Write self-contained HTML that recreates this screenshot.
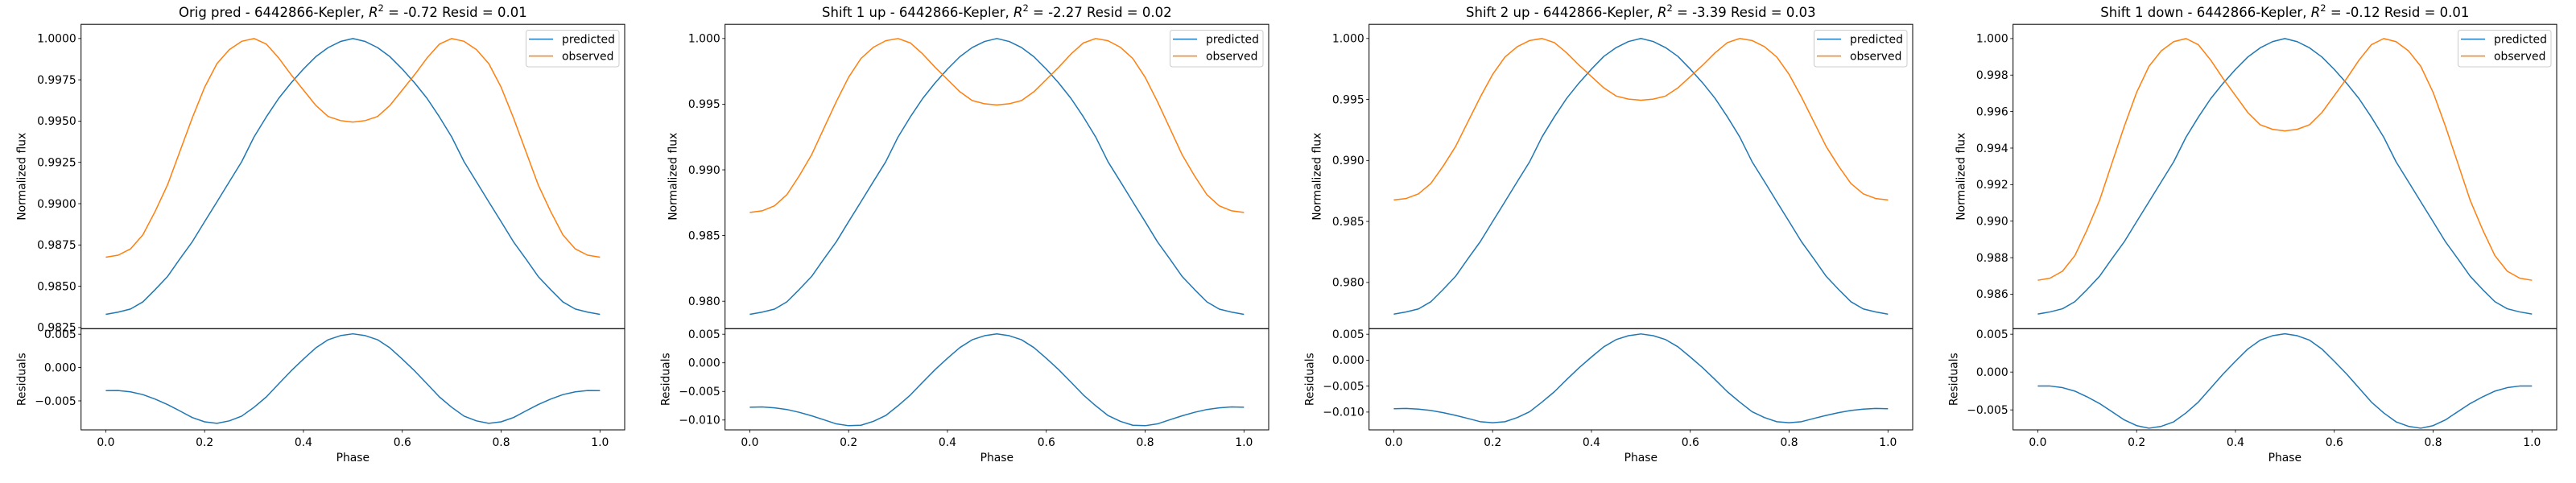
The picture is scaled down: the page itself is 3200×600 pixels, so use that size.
<!DOCTYPE html>
<html><head><meta charset="utf-8">
<style>
html,body{margin:0;padding:0;background:#fff;}
svg{display:block;font-family:"DejaVu Sans","Liberation Sans",sans-serif;}
</style></head>
<body>
<svg id="fig" width="3200" height="600" viewBox="0 0 3200 600" xmlns="http://www.w3.org/2000/svg"></svg>
<script>
const phase = [0,0.025,0.05,0.075,0.1,0.125,0.15,0.175,0.2,0.225,0.25,0.275,0.3,0.325,0.35,0.375,0.4,0.425,0.45,0.475,0.5,0.525,0.55,0.575,0.6,0.625,0.65,0.675,0.7,0.725,0.75,0.775,0.8,0.825,0.85,0.875,0.9,0.925,0.95,0.975,1.0];
const observed = [0.98676,0.98688,0.98726,0.98811,0.98954,0.99114,0.99317,0.99519,0.99705,0.99848,0.99933,0.99983,1.0,0.99966,0.99882,0.99781,0.99688,0.99595,0.99528,0.99503,0.99494,0.99503,0.99528,0.99595,0.99688,0.99781,0.99882,0.99966,1.0,0.99983,0.99933,0.99848,0.99705,0.99519,0.99317,0.99114,0.98954,0.98811,0.98726,0.98688,0.98676];
const predOrig = [0.98330,0.98343,0.98362,0.98405,0.98480,0.98559,0.98666,0.98769,0.98891,0.99011,0.99133,0.99254,0.99404,0.99526,0.99638,0.99731,0.99815,0.99890,0.99945,0.99982,1.0,0.99982,0.99945,0.99890,0.99815,0.99731,0.99638,0.99526,0.99404,0.99254,0.99133,0.99011,0.98891,0.98769,0.98666,0.98559,0.98480,0.98405,0.98362,0.98343,0.98330];
const predUp1 = [0.97900,0.97917,0.97940,0.97995,0.98089,0.98188,0.98322,0.98452,0.98606,0.98757,0.98910,0.99061,0.99250,0.99404,0.99544,0.99662,0.99767,0.99861,0.99931,0.99977,1.0,0.99977,0.99931,0.99861,0.99767,0.99662,0.99544,0.99404,0.99250,0.99061,0.98910,0.98757,0.98606,0.98452,0.98322,0.98188,0.98089,0.97995,0.97940,0.97917,0.97900];
const predUp2 = [0.97740,0.97758,0.97783,0.97842,0.97943,0.98050,0.98194,0.98334,0.98499,0.98662,0.98827,0.98990,0.99193,0.99358,0.99510,0.99636,0.99749,0.99853,0.99925,0.99975,1.0,0.99975,0.99925,0.99853,0.99749,0.99636,0.99510,0.99358,0.99193,0.98990,0.98827,0.98662,0.98499,0.98334,0.98194,0.98050,0.97943,0.97842,0.97783,0.97758,0.97740];
const predDown1 = [0.98491,0.98503,0.98520,0.98559,0.98626,0.98698,0.98794,0.98887,0.98997,0.99106,0.99216,0.99325,0.99460,0.99570,0.99671,0.99755,0.99831,0.99899,0.99949,0.99983,1.0,0.99983,0.99949,0.99899,0.99831,0.99755,0.99671,0.99570,0.99460,0.99325,0.99216,0.99106,0.98997,0.98887,0.98794,0.98698,0.98626,0.98559,0.98520,0.98503,0.98491];
const titlePrefixes = ["Orig pred","Shift 1 up","Shift 2 up","Shift 1 down"];
const r2Values = ["-0.72","-2.27","-3.39","-0.12"];
const residValues = ["0.01","0.02","0.03","0.01"];
const fluxTicks = [[0.9825,0.985,0.9875,0.99,0.9925,0.995,0.9975,1.0],[0.98,0.985,0.99,0.995,1.0],[0.98,0.985,0.99,0.995,1.0],[0.986,0.988,0.99,0.992,0.994,0.996,0.998,1.0]];
const fluxDecimals = [4,3,3,3];
const fluxLims = [[0.98243,1.00086],[0.97791,1.00108],[0.97621,1.00116],[0.98411,1.00078]];
const residTicks = [[-0.005,0,0.005],[-0.01,-0.005,0,0.005],[-0.01,-0.005,0,0.005],[-0.005,0,0.005]];
const residLims = [[-0.00935,0.00583],[-0.01172,0.00597],[-0.01343,0.00607],[-0.00764,0.00573]];
const phaseTicks = [0,0.2,0.4,0.6,0.8,1.0];

const preds = [predOrig,predUp1,predUp2,predDown1];
const NS = "http://www.w3.org/2000/svg";
const svg = document.getElementById('fig');
function mk(tag, attrs, parent){const e=document.createElementNS(NS,tag);for(const k in attrs)e.setAttribute(k,attrs[k]);(parent||svg).appendChild(e);return e;}
function fmt(v,d){const s=Math.abs(v).toFixed(d);return (v<-1e-12?"\u2212":"")+s;}
function pathFrom(xs,ys,sx,sy){let d="";for(let i=0;i<xs.length;i++){d+=(i?"L":"M")+sx(xs[i]).toFixed(2)+","+sy(ys[i]).toFixed(2);}return d;}

const L=100.7,R=776,T=30.2,M=408.3,B=534;
for(let p=0;p<4;p++){
  const ox=800*p;
  const g=mk('g',{transform:`translate(${ox},0)`});
  
  
  const sx=v=>L+(v+0.05)/1.1*(R-L);
  const fl=fluxLims[p], rl=residLims[p];
  const syU=v=>M-(v-fl[0])/(fl[1]-fl[0])*(M-T);
  const syR=v=>B-(v-rl[0])/(rl[1]-rl[0])*(B-M);
  // title
  const t=mk('text',{x:(L+R)/2,y:21,'text-anchor':'middle','font-size':'16.5',fill:'#000'},g);
  
  
  t.innerHTML=`${titlePrefixes[p]} - 6442866-Kepler, <tspan font-style="italic">R</tspan><tspan dy="-7" font-size="11.5">2</tspan><tspan dy="7"> = ${r2Values[p]} Resid = ${residValues[p]}</tspan>`;
  // lines upper
  const lp=mk('path',{d:pathFrom(phase,preds[p],sx,syU),fill:'none',stroke:'#1f77b4','stroke-width':1.5,'stroke-linejoin':'round'},g);
  
  
  const lo=mk('path',{d:pathFrom(phase,observed,sx,syU),fill:'none',stroke:'#ff7f0e','stroke-width':1.5,'stroke-linejoin':'round'},g);
  
  
  const resid=preds[p].map((v,i)=>v-observed[i]);
  const lr=mk('path',{d:pathFrom(phase,resid,sx,syR),fill:'none',stroke:'#1f77b4','stroke-width':1.5,'stroke-linejoin':'round'},g);
  
  
  // frames
  const f1=mk('rect',{x:L,y:T,width:R-L,height:M-T,fill:'none',stroke:'#000','stroke-width':1},g);
  
  
  const f2=mk('rect',{x:L,y:M,width:R-L,height:B-M,fill:'none',stroke:'#000','stroke-width':1},g);
  
  
  // y ticks upper
  fluxTicks[p].forEach(v=>{
    const y=syU(v);
    mk('line',{x1:L-3.5,x2:L,y1:y,y2:y,stroke:'#000','stroke-width':0.8},g);
    const tx=mk('text',{x:L-6,y:y+4.8,'text-anchor':'end','font-size':'13.9'},g);
    
    
    tx.textContent=fmt(v,fluxDecimals[p]);
  });
  residTicks[p].forEach(v=>{
    const y=syR(v);
    mk('line',{x1:L-3.5,x2:L,y1:y,y2:y,stroke:'#000','stroke-width':0.8},g);
    const tx=mk('text',{x:L-6,y:y+4.8,'text-anchor':'end','font-size':'13.9'},g);
    
    
    tx.textContent=fmt(v,3);
  });
  phaseTicks.forEach(v=>{
    const x=sx(v);
    mk('line',{x1:x,x2:x,y1:B,y2:B+3.5,stroke:'#000','stroke-width':0.8},g);
    const tx=mk('text',{x:x,y:B+20,'text-anchor':'middle','font-size':'13.9'},g);
    
    
    tx.textContent=v.toFixed(1);
  });
  // axis labels
  const xl=mk('text',{x:(L+R)/2,y:573,'text-anchor':'middle','font-size':'13.9'},g);
  
  
  xl.textContent='Phase';
  const fx=p===0?26.5:35.7;
  const yl=mk('text',{x:0,y:0,'text-anchor':'middle','font-size':'13.9',transform:`translate(${fx+5},${(T+M)/2}) rotate(-90)`},g);
  
  
  yl.textContent='Normalized flux';
  const rlb=mk('text',{x:0,y:0,'text-anchor':'middle','font-size':'13.9',transform:`translate(${26.5+5},${(M+B)/2}) rotate(-90)`},g);
  
  
  rlb.textContent='Residuals';
  // legend
  const lg=mk('g',{},g);
  
  
  mk('rect',{x:653.5,y:37.5,width:115.5,height:45.5,rx:3,fill:'#fff','fill-opacity':0.8,stroke:'#cccccc','stroke-width':1},lg);
  const e1=mk('g',{},lg);
  
  
  mk('line',{x1:657,x2:687,y1:48.6,y2:48.6,stroke:'#1f77b4','stroke-width':1.5},e1);
  const t1=mk('text',{x:698,y:53.5,'font-size':'13.9'},e1);t1.textContent='predicted';
  const e2=mk('g',{},lg);
  
  
  mk('line',{x1:657,x2:687,y1:69.6,y2:69.6,stroke:'#ff7f0e','stroke-width':1.5},e2);
  const t2=mk('text',{x:698,y:74.5,'font-size':'13.9'},e2);t2.textContent='observed';
}
</script>
</body></html>
